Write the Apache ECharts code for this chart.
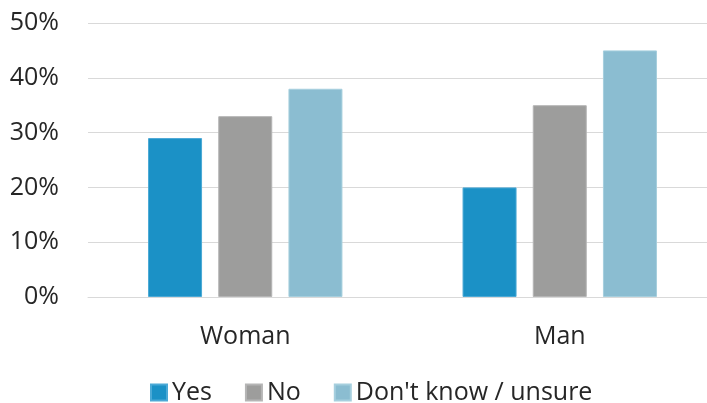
<!DOCTYPE html>
<html><head><meta charset="utf-8">
<script src="https://cdn.jsdelivr.net/npm/echarts@6/dist/echarts.min.js"></script>
<style>html,body{margin:0;padding:0;background:#fff}#c{width:707px;height:403px}</style>
</head><body><div id="c"></div>
<script>
const categories = ['Woman', 'Man'];
const seriesNames = ['Yes', 'No', "Don't know / unsure"];
const yesValues = [29, 20];
const noValues = [33, 35];
const unsureValues = [38, 45];
const yTicks = [0, 10, 20, 30, 40, 50];

const colors = ['#1B91C6', '#9D9D9C', '#8BBDD1'];
const borders = ['#4BA9D6', '#B5B5B5', '#A6CFDE'];
const font = '"Open Sans", sans-serif';
const dataSets = [yesValues, noValues, unsureValues];

const chart = echarts.init(document.getElementById('c'), null, {renderer: 'canvas'});
chart.setOption({
  animation: false,
  color: colors,
  grid: {left: 88, top: 23, bottom: 106, width: 629, outerBoundsMode: 'none', containLabel: false},
  legend: {
    top: 375, left: 145,
    itemWidth: 16, itemHeight: 16, itemGap: 33,
    icon: 'rect',
    textStyle: {fontFamily: font, fontSize: 25, color: '#262626'},
    data: seriesNames
  },
  xAxis: {
    type: 'category', data: categories,
    axisLine: {show: true, lineStyle: {color: '#D9D9D9', width: 1}},
    axisTick: {show: false},
    axisLabel: {fontFamily: font, fontSize: 25, color: '#262626', margin: 27}
  },
  yAxis: {
    type: 'value', min: yTicks[0], max: yTicks[yTicks.length - 1], interval: 10,
    axisLine: {show: false}, axisTick: {show: false},
    splitLine: {lineStyle: {color: '#D9D9D9', width: 1}},
    axisLabel: {fontFamily: font, fontSize: 25, color: '#262626', margin: 29, formatter: v => v + '%'}
  },
  series: seriesNames.map((n, i) => ({
    name: n, type: 'bar', data: dataSets[i],
    barWidth: 54, barGap: '30%',
    itemStyle: {color: colors[i], borderColor: borders[i], borderWidth: 1}
  }))
});
</script></body></html>
